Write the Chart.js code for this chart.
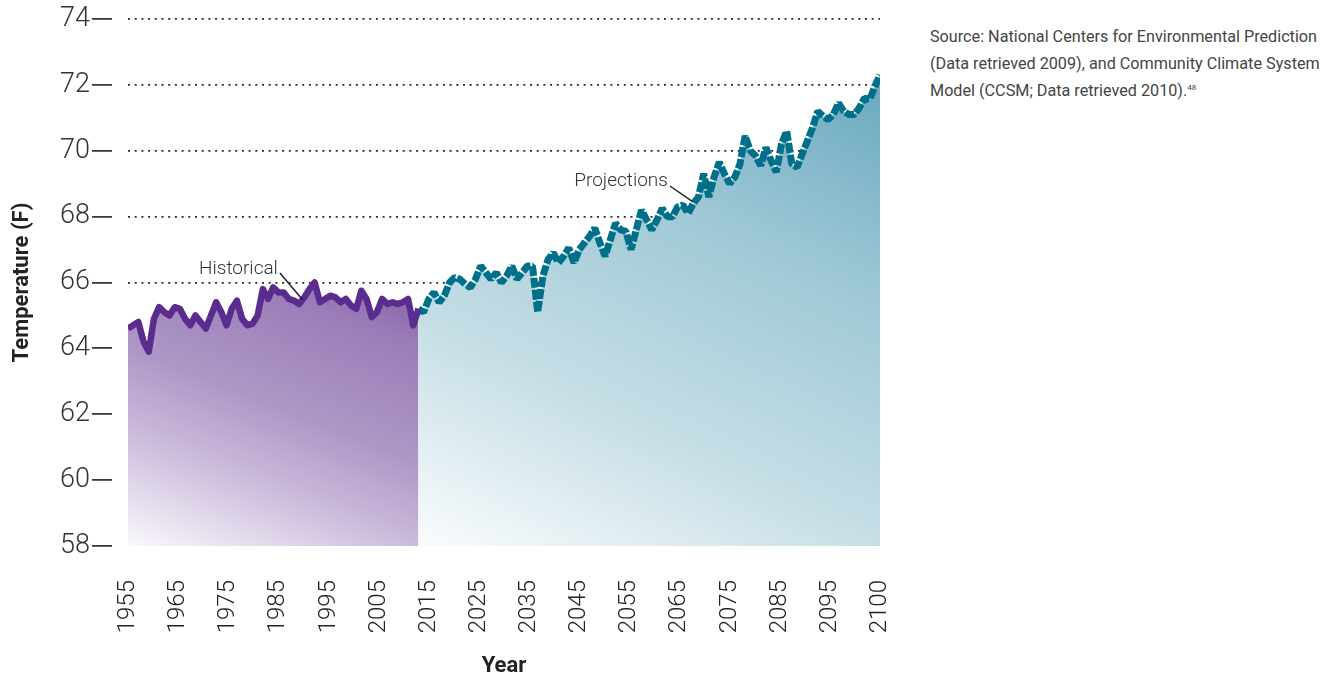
<!DOCTYPE html>
<html><head><meta charset="utf-8">
<script src="https://cdn.jsdelivr.net/npm/chart.js@4"></script>
<style>
html,body{margin:0;padding:0;background:#fff;width:1333px;height:677px;overflow:hidden;}
#wrap{position:absolute;left:0;top:0;width:900px;height:677px;}
#src{position:absolute;left:930px;top:23px;width:400px;font:400 16.2px Roboto,"Liberation Sans",Arial,sans-serif;line-height:27px;color:#444;white-space:nowrap;}
#src sup{font-size:8px;vertical-align:6px;line-height:0;}
</style></head><body>
<div id="wrap"><canvas id="c" width="900" height="677"></canvas></div>
<div id="src">Source: National Centers for Environmental Prediction<br>(Data retrieved 2009), and Community Climate System<br>Model (CCSM; Data retrieved 2010).<sup>48</sup></div>
<script>
const histYears = [1955,1956,1957,1958,1959,1960,1961,1962,1963,1964,
  1965,1966,1967,1968,1969,1970,1971,1972,1973,1974,
  1975,1976,1977,1978,1979,1980,1981,1982,1983,1984,
  1985,1986,1987,1988,1989,1990,1991,1992,1993,1994,
  1995,1996,1997,1998,1999,2000,2001,2002,2003,2004,
  2005,2006,2007,2008,2009,2010,2011];
const histTemps = [64.6,64.7,64.8,64.2,63.9,64.9,65.25,65.1,65.0,65.25,
  65.2,64.9,64.7,65.0,64.8,64.6,65.0,65.4,65.1,64.7,
  65.2,65.45,64.9,64.7,64.75,65.0,65.8,65.5,65.85,65.7,
  65.7,65.5,65.45,65.35,65.55,65.8,66.0,65.4,65.5,65.6,
  65.55,65.4,65.5,65.3,65.2,65.75,65.5,64.95,65.1,65.5,
  65.35,65.4,65.35,65.4,65.5,64.7,65.2];
const projYears = [2011,2012,2013,2014,2015,2016,2017,2018,2019,2020,
  2021,2022,2023,2024,2025,2026,2027,2028,2029,2030,
  2031,2032,2033,2034,2035,2036,2037,2038,2039,2040,
  2041,2042,2043,2044,2045,2046,2047,2048,2049,2050,
  2051,2052,2053,2054,2055,2056,2057,2058,2059,2060,
  2061,2062,2063,2064,2065,2066,2067,2068,2069,2070,
  2071,2072,2073,2074,2075,2076,2077,2078,2079,2080,
  2081,2082,2083,2084,2085,2086,2087,2088,2089,2090,
  2091,2092,2093,2094,2095,2096,2097,2098,2099,2100];
const projTemps = [65.2,65.1,65.5,65.7,65.4,65.6,66.0,66.15,66.1,65.95,
  65.85,66.1,66.5,66.3,66.1,66.3,66.0,66.2,66.5,66.1,
  66.3,66.5,66.5,65.1,66.2,66.7,66.9,66.6,66.8,67.05,
  66.6,67.0,67.2,67.4,67.65,67.2,66.8,67.3,67.8,67.6,
  67.55,67.0,67.6,68.2,67.9,67.6,67.9,68.25,68.0,68.0,
  68.3,68.35,68.1,68.4,68.6,69.3,68.6,69.2,69.65,69.3,
  69.0,69.2,69.6,70.45,70.0,69.85,69.55,70.1,69.7,69.35,
  70.2,70.6,69.6,69.5,69.9,70.3,70.7,71.2,71.05,70.95,
  71.1,71.45,71.2,71.1,71.1,71.3,71.6,71.55,71.95,72.3];
const yTickValues = [58,60,62,64,66,68,70,72,74];
const xTickLabels = ['1955','1965','1975','1985','1995','2005','2015','2025','2035','2045','2055','2065','2075','2085','2095','2100'];
const seriesNames = ['Historical','Projections'];
// annotation anchors in data units: [textYear, textTemp, lineFromYear, lineFromTemp, lineToYear, lineToTemp]
const histNote = [1983.9, 66.41, 1984.3, 66.29, 1988.7, 65.47];
const projNote = [2059.1, 69.08, 2059.5, 68.93, 2064.0, 68.44];

const FONT = 'Roboto, "Liberation Sans", Arial, sans-serif';

function purpleFill(ctx){
  const ch = ctx.chart, a = ch.chartArea;
  if (!a) return 'rgba(0,0,0,0)';
  const h = a.bottom - a.top;
  const g = ch.ctx.createLinearGradient(a.left, a.bottom, a.left + 0.224 * h, a.bottom - 0.565 * h);
  g.addColorStop(0, '#faf8fc');
  g.addColorStop(0.35, '#c9b8da');
  g.addColorStop(0.575, '#ae97c6');
  g.addColorStop(0.91, '#9a7db8');
  g.addColorStop(1, '#8f6dae');
  return g;
}
function blueFill(ctx){
  const ch = ctx.chart, a = ch.chartArea;
  if (!a) return 'rgba(0,0,0,0)';
  const x0 = ch.scales.x.getPixelForValue(2011);
  const g = ch.ctx.createLinearGradient(x0, a.bottom, x0 + 0.578 * (a.right - x0), a.bottom - 1.06 * (a.bottom - a.top));
  g.addColorStop(0, '#fafcfd');
  g.addColorStop(0.33, '#c6dee6');
  g.addColorStop(0.68, '#9ec8d6');
  g.addColorStop(1, '#6aa9bf');
  return g;
}

const notesPlugin = {
  id: 'notes',
  afterDraw(chart){
    const c = chart.ctx, xs = chart.scales.x, ys = chart.scales.y;
    c.save();
    c.font = '300 19px ' + FONT;
    c.fillStyle = '#333';
    c.strokeStyle = '#222';
    c.lineWidth = 1.5;
    c.textAlign = 'right';
    c.textBaseline = 'middle';
    [[histNote, seriesNames[0]], [projNote, seriesNames[1]]].forEach(([n, t]) => {
      c.fillText(t, xs.getPixelForValue(n[0]), ys.getPixelForValue(n[1]));
      c.beginPath();
      c.moveTo(xs.getPixelForValue(n[2]), ys.getPixelForValue(n[3]));
      c.lineTo(xs.getPixelForValue(n[4]), ys.getPixelForValue(n[5]));
      c.stroke();
    });
    c.restore();
  }
};

new Chart(document.getElementById('c'), {
  type: 'line',
  data: {
    datasets: [
      {
        label: seriesNames[0],
        data: histYears.map((y, i) => ({x: y, y: histTemps[i]})),
        borderColor: '#5b2c8f',
        borderWidth: 6.5,
        borderJoinStyle: 'round',
        pointRadius: 0,
        tension: 0,
        fill: 'start',
        backgroundColor: purpleFill,
        xAxisID: 'x', yAxisID: 'y'
      },
      {
        label: seriesNames[1],
        data: projYears.map((y, i) => ({x: y, y: projTemps[i]})),
        borderColor: '#00708a',
        borderWidth: 7,
        borderDash: [10, 2],
        borderCapStyle: 'butt',
        borderJoinStyle: 'bevel',
        pointRadius: 0,
        tension: 0,
        fill: 'start',
        backgroundColor: blueFill,
        xAxisID: 'x', yAxisID: 'y'
      }
    ]
  },
  options: {
    responsive: false,
    animation: false,
    layout: {padding: {left: 0, right: 20, top: 19, bottom: 0}},
    plugins: {legend: {display: false}, tooltip: {enabled: false}},
    scales: {
      x: {type: 'linear', min: 1955, max: 2100, display: false},
      xl: {
        type: 'category',
        labels: xTickLabels,
        position: 'bottom',
        offset: false,
        grid: {display: false},
        border: {display: false},
        ticks: {minRotation: 90, maxRotation: 90, autoSkip: false, padding: 26,
          color: '#222', font: {family: FONT, size: 24, weight: '300'}},
        title: {display: true, text: 'Year', color: '#222',
          font: {family: FONT, size: 22, weight: 'bold', lineHeight: 1.0}, padding: {top: 0, bottom: 0}},
        afterFit(s){ s.height = 131; s.paddingLeft = 0; s.paddingRight = 0; }
      },
      y: {
        min: 58, max: 74, z: 1,
        afterBuildTicks(s){ s.ticks = yTickValues.map(v => ({value: v})); },
        afterFit(s){ s.width = 128; },
        border: {display: false, dash: [2, 4.7]},
        grid: {
          color: c => (c.tick && c.tick.value === 58) ? 'rgba(0,0,0,0)' : '#2a2a2a',
          lineWidth: 1.8,
          drawTicks: true,
          tickLength: 36,
          tickColor: '#222',
          tickWidth: 1.6,
          tickBorderDash: [20, 40]
        },
        ticks: {padding: 2, color: '#333', font: {family: FONT, size: 27, weight: '300'}},
        title: {display: true, text: 'Temperature (F)', color: '#222',
          font: {family: FONT, size: 22, weight: 'bold'}, padding: {top: 9, bottom: 0}}
      }
    }
  },
  plugins: [notesPlugin]
});
</script>
</body></html>
